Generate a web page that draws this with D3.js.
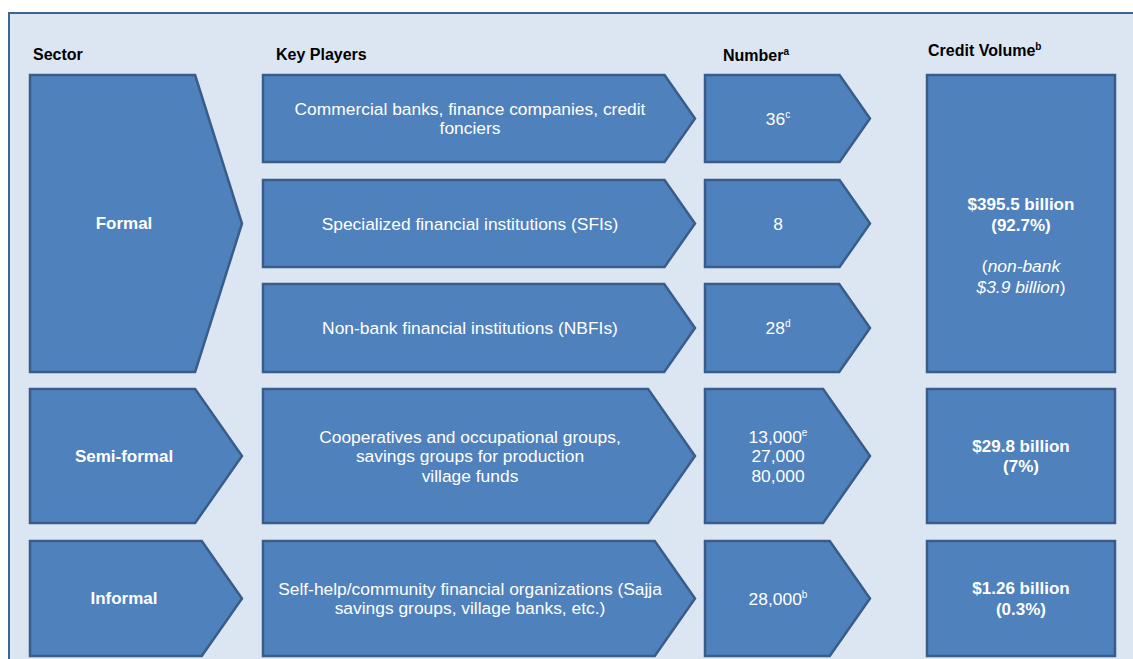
<!DOCTYPE html>
<html>
<head>
<meta charset="utf-8">
<script src="https://cdn.jsdelivr.net/npm/d3@7"></script>
<style>
  body { margin: 0; background: #fff; }
  text { font-family: "Liberation Sans", Arial, sans-serif; }
</style>
</head>
<body>
<div id="chart-area"></div>
<script>
/*
*    diagram of the financial sectors
*/

// column headers, [text, superscript]
var headers = [["Sector", ""], ["Key Players", ""], ["Number", "a"], ["Credit Volume", "b"]];

// sector labels
var sectors = ["Formal", "Semi-formal", "Informal"];

// key players, one entry per row, lines split by "|"
var keyPlayers = [
    "Commercial banks, finance companies, credit|fonciers",
    "Specialized financial institutions (SFIs)",
    "Non-bank financial institutions (NBFIs)",
    "Cooperatives and occupational groups,|savings groups for production|village funds",
    "Self-help/community financial organizations (Sajja|savings groups, village banks, etc.)"
];

// numbers per row, [value, footnote] per line
var numbers = [
    [["36", "c"]],
    [["8", ""]],
    [["28", "d"]],
    [["13,000", "e"], ["27,000", ""], ["80,000", ""]],
    [["28,000", "b"]]
];

// credit volume per sector
var creditVolume = ["$395.5 billion", "$29.8 billion", "$1.26 billion"];
var creditShare = ["(92.7%)", "(7%)", "(0.3%)"];
var creditNote = ["non-bank|$3.9 billion", "", ""];

// layout (pixels)
var width = 1133, height = 659;
var rowTops = [75, 180, 284, 389, 541];
var rowBottoms = [162, 267, 372, 523, 656];
var sectorRows = [[0, 2], [3, 3], [4, 4]];
var fill = "#4F81BD", stroke = "#385D8A";
var bodySize = "17.4px";

var svg = d3.select('#chart-area')
    .append('svg')
        .attr('width', width)
        .attr('height', height);

// frame
svg.append("rect")
    .attr("x", 9).attr("y", 13)
    .attr("width", width + 20).attr("height", height + 20)
    .attr("fill", "#DCE6F2")
    .attr("stroke", "#3C6497")
    .attr("stroke-width", 2);

var y0 = d3.scaleOrdinal().domain(d3.range(5)).range(rowTops);
var y1 = d3.scaleOrdinal().domain(d3.range(5)).range(rowBottoms);

// x extents for columns: left, right (tip)
var cols = { sector: [30, 242], key: [263, 695], num: [705, 870], credit: [927, 1115] };
var textX = { sector: 124, key: 470, num: 778, credit: 1021 };

function homePlate(x0, x1, top, bottom) {
    var h = bottom - top;
    var depth = 0.35 * Math.min(h, 134);
    var mid = (top + bottom) / 2;
    return "M" + x0 + "," + top +
        "L" + (x1 - depth) + "," + top +
        "L" + x1 + "," + mid +
        "L" + (x1 - depth) + "," + bottom +
        "L" + x0 + "," + bottom + "Z";
}

function shapeStyle(sel) {
    sel.attr("fill", fill)
        .attr("stroke", stroke)
        .attr("stroke-width", 2.5)
        .attr("stroke-linejoin", "miter");
}

// headers
var headerX = [33, 276, 723, 928];
var headerY = [60, 60, 61, 56];
svg.selectAll("text.header").data(headers).enter()
    .append("text")
    .attr("class", "header")
    .attr("x", (d, i) => headerX[i])
    .attr("y", (d, i) => headerY[i])
    .attr("font-size", "16px")
    .attr("font-weight", "bold")
    .attr("fill", "#000")
    .each(function(d) {
        var t = d3.select(this);
        t.append("tspan").text(d[0]);
        if (d[1]) t.append("tspan").attr("font-size", "10px").attr("dy", "-6").text(d[1]);
    });

// sector shapes
var sectorG = svg.selectAll("g.sector").data(sectors).enter().append("g").attr("class", "sector");
sectorG.append("path")
    .attr("d", (d, i) => homePlate(cols.sector[0], cols.sector[1], y0(sectorRows[i][0]), y1(sectorRows[i][1])))
    .call(shapeStyle);
sectorG.append("text")
    .attr("x", textX.sector)
    .attr("y", (d, i) => (y0(sectorRows[i][0]) + y1(sectorRows[i][1])) / 2)
    .attr("dy", "0.35em")
    .attr("text-anchor", "middle")
    .attr("font-size", "17px")
    .attr("font-weight", "bold")
    .attr("fill", "#fff")
    .text(d => d);

// key players
var keyG = svg.selectAll("g.key").data(keyPlayers).enter().append("g").attr("class", "key");
keyG.append("path")
    .attr("d", (d, i) => homePlate(cols.key[0], cols.key[1], y0(i), y1(i)))
    .call(shapeStyle);
keyG.each(function(d, i) {
    var lines = d.split("|");
    var mid = (y0(i) + y1(i)) / 2;
    d3.select(this).selectAll("text").data(lines).enter()
        .append("text")
        .attr("x", textX.key)
        .attr("y", (l, j) => mid + (j - (lines.length - 1) / 2) * 19.5)
        .attr("dy", "0.35em")
        .attr("text-anchor", "middle")
        .attr("font-size", bodySize)
        .attr("fill", "#fff")
        .text(l => l);
});

// numbers
var numG = svg.selectAll("g.num").data(numbers).enter().append("g").attr("class", "num");
numG.append("path")
    .attr("d", (d, i) => homePlate(cols.num[0], cols.num[1], y0(i), y1(i)))
    .call(shapeStyle);
numG.each(function(d, i) {
    var mid = (y0(i) + y1(i)) / 2;
    d3.select(this).selectAll("text").data(d).enter()
        .append("text")
        .attr("x", textX.num)
        .attr("y", (l, j) => mid + (j - (d.length - 1) / 2) * 19.5)
        .attr("dy", "0.35em")
        .attr("text-anchor", "middle")
        .attr("font-size", bodySize)
        .attr("fill", "#fff")
        .each(function(l) {
            var t = d3.select(this);
            t.append("tspan").text(l[0]);
            if (l[1]) t.append("tspan").attr("font-size", "10px").attr("dy", "-7").text(l[1]);
        });
});

// credit volume
var creditShift = [22, 0, 0];
var creditG = svg.selectAll("g.credit").data(creditVolume).enter().append("g").attr("class", "credit");
creditG.append("rect")
    .attr("x", cols.credit[0])
    .attr("y", (d, i) => y0(sectorRows[i][0]))
    .attr("width", cols.credit[1] - cols.credit[0])
    .attr("height", (d, i) => y1(sectorRows[i][1]) - y0(sectorRows[i][0]))
    .call(shapeStyle);
creditG.each(function(d, i) {
    var g = d3.select(this);
    var lines = [[d, "b"], [creditShare[i], "b"]];
    if (creditNote[i]) {
        lines.push(["", ""]);
        var parts = creditNote[i].split("|");
        lines.push(["(" + parts[0], "n0"]);
        lines.push([parts[1] + ")", "n1"]);
    }
    var mid = (y0(sectorRows[i][0]) + y1(sectorRows[i][1])) / 2 + creditShift[i];
    g.selectAll("text").data(lines).enter()
        .append("text")
        .attr("x", textX.credit)
        .attr("y", (l, j) => mid + (j - (lines.length - 1) / 2) * 20.5)
        .attr("dy", "0.35em")
        .attr("text-anchor", "middle")
        .attr("font-size", l => l[1] === "b" ? "17px" : bodySize)
        .attr("font-weight", l => l[1] === "b" ? "bold" : "normal")
        .attr("fill", "#fff")
        .each(function(l) {
            var t = d3.select(this);
            if (l[1] === "n0") {
                t.append("tspan").text("(");
                t.append("tspan").attr("font-style", "italic").text(l[0].slice(1));
            } else if (l[1] === "n1") {
                t.append("tspan").attr("font-style", "italic").text(l[0].slice(0, -1));
                t.append("tspan").text(")");
            } else {
                t.text(l[0]);
            }
        });
});
</script>
</body>
</html>
